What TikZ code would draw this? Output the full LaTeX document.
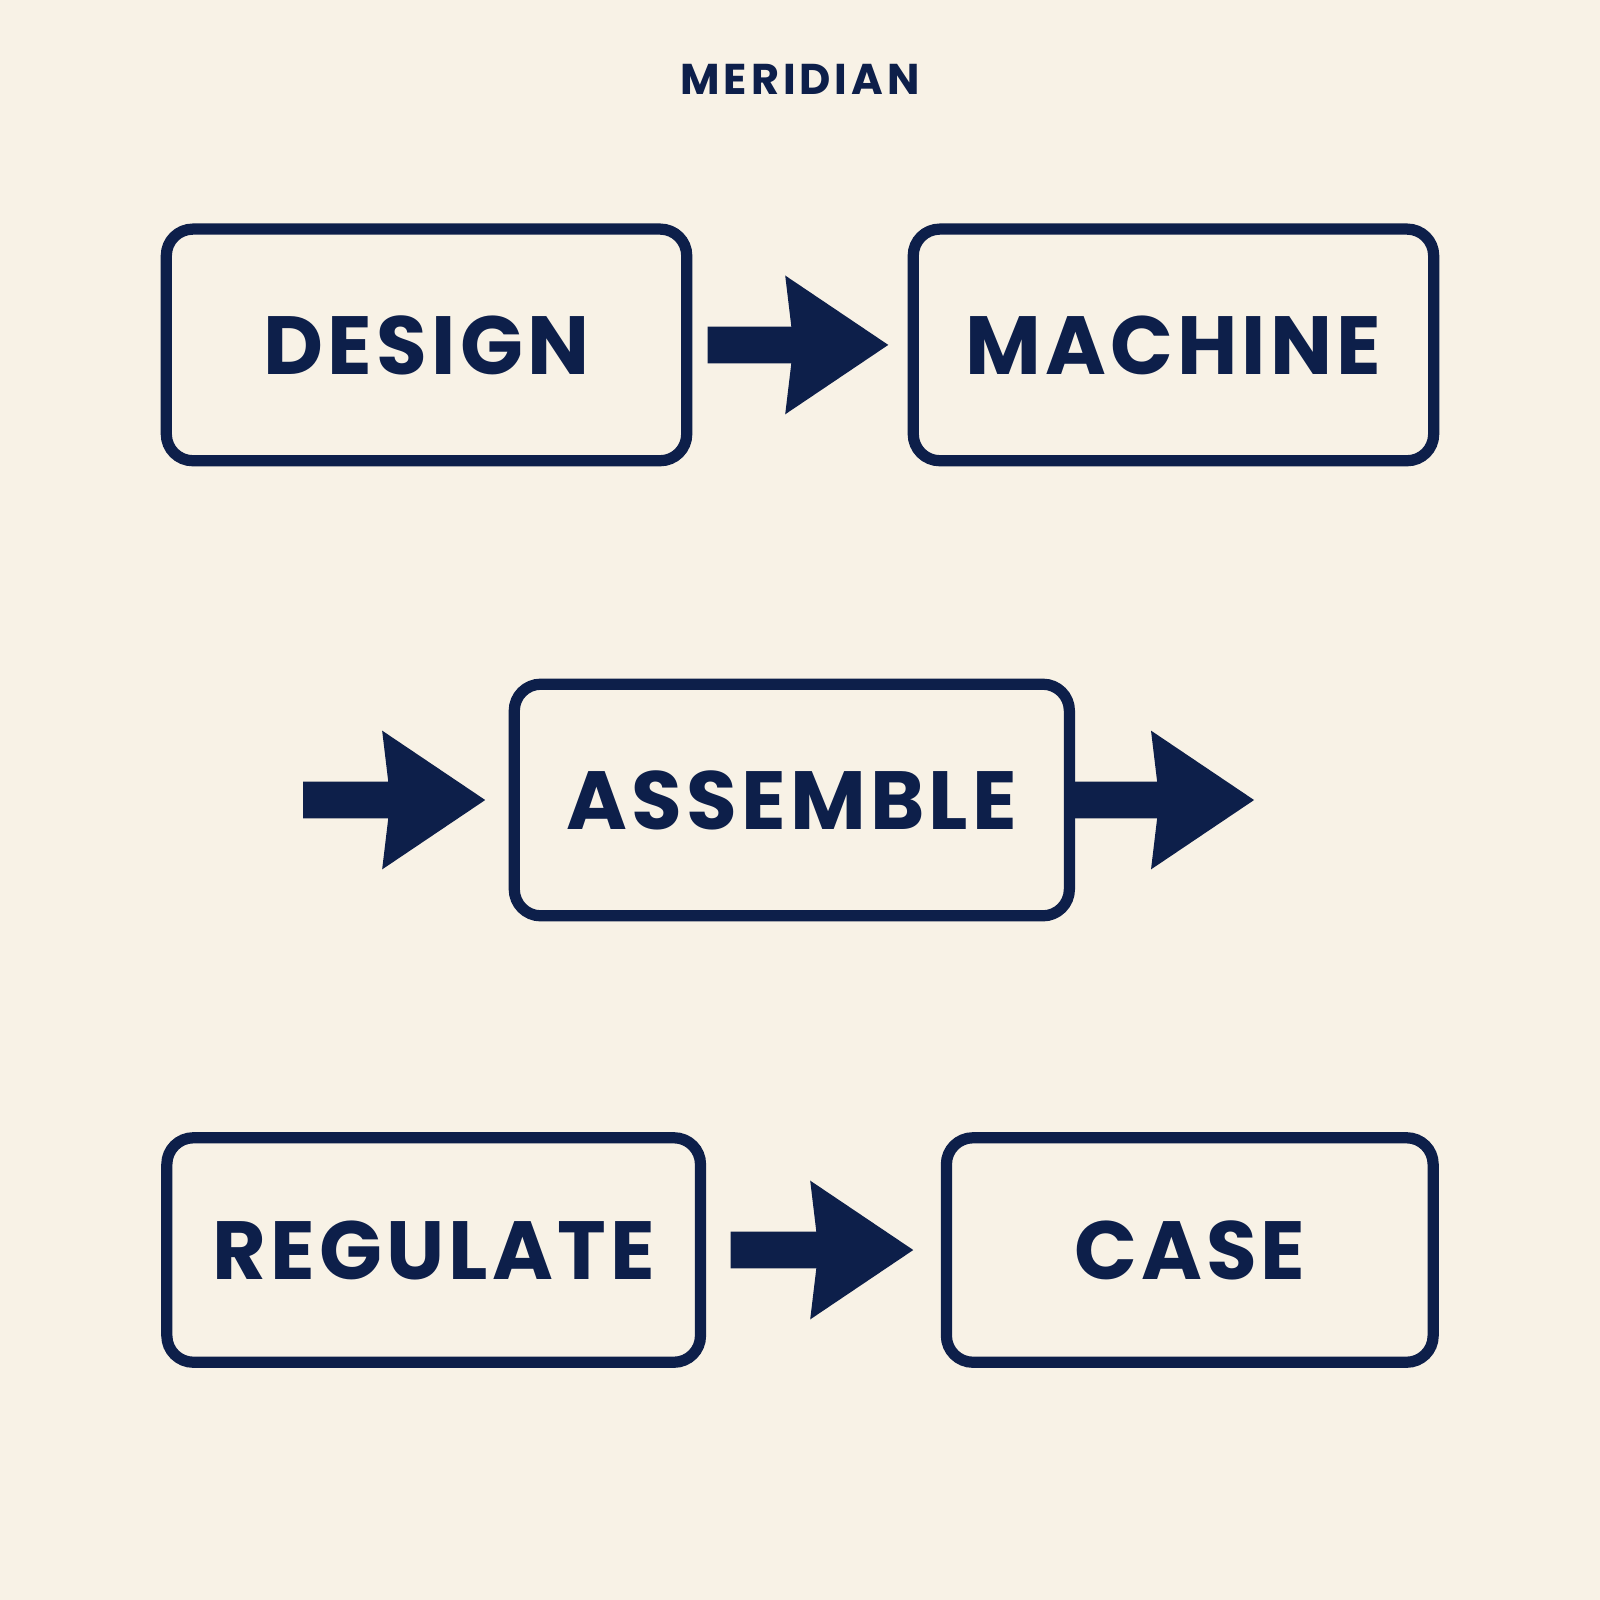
\documentclass[tikz,border=0pt]{standalone}
\usepackage{fontspec}
\setmainfont{Poppins}
\usetikzlibrary{calc}
\definecolor{navy}{HTML}{0D1F4A}
\definecolor{paper}{HTML}{F8F2E6}
\newlength\pxu
\setlength\pxu{0.01cm}
\tikzset{
  box/.style={draw=navy, line width=11\pxu, rounded corners=26\pxu, inner sep=0pt,
    minimum height=227\pxu, align=center, text=navy,
    font=\fontsize{23}{27}\selectfont\bfseries\addfontfeatures{LetterSpace=5}},
}
% block arrow from #1 to #2 (horizontal)
\newcommand\blockarrow[2]{%
  \fill[navy] let \p1=(#1), \p2=(#2) in
    (\x1,\y1+18\pxu) -- (\x2-95\pxu,\y1+18\pxu)
    -- (\x2-101\pxu,\y1+68\pxu) -- (\x2,\y1)
    -- (\x2-101\pxu,\y1-68\pxu) -- (\x2-95\pxu,\y1-18\pxu)
    -- (\x1,\y1-18\pxu) -- cycle;}
\begin{document}
\begin{tikzpicture}[x=0.01cm,y=-0.01cm]
\fill[paper] (0,0) rectangle (1568,1568);
\useasboundingbox (0,0) rectangle (1568,1568);
\node[text=navy, font=\fontsize{12}{14}\selectfont\bfseries\addfontfeatures{LetterSpace=9}] (title) at (784,78) {MERIDIAN};

\node[box, minimum width=510\pxu] (design) at (418,338) {DESIGN};
\node[box, minimum width=510\pxu] (machine) at (1150,338) {MACHINE};
\node[box, minimum width=544\pxu] (assemble) at (776,784) {ASSEMBLE};
\node[box, minimum width=523\pxu, minimum height=220\pxu] (regulate) at (425,1225) {REGULATE};
\node[box, minimum width=477\pxu, minimum height=220\pxu] (case) at (1166,1225) {CASE};

\coordinate (inL) at (297,784);
\coordinate (outR) at (1229,784);

\blockarrow{$(design.east)+(15,0)$}{$(machine.west)+(-19,0)$}
\blockarrow{inL}{$(assemble.west)+(-23,0)$}
\blockarrow{$(assemble.east)+(0,0)$}{outR}
\blockarrow{$(regulate.east)+(24,0)$}{$(case.west)+(-27,0)$}
\end{tikzpicture}
\end{document}
